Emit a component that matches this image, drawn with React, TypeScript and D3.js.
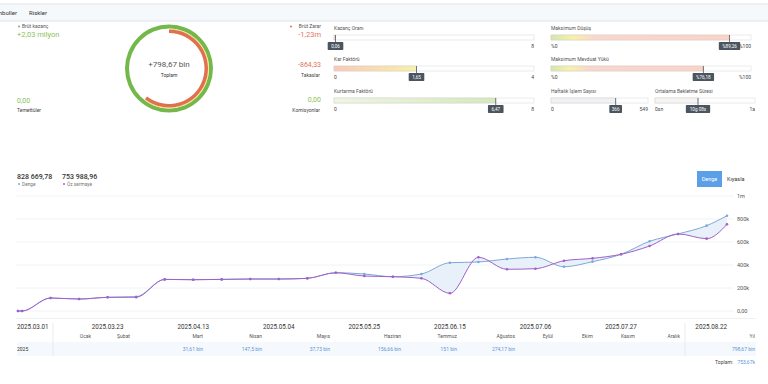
import React from "react";
import { scaleTime, scaleLinear, line, area, arc, curveMonotoneX, timeParse } from "d3";

// equity curve (weekly)
const dates = [
  "2025-03-01", "2025-03-02", "2025-03-09", "2025-03-16", "2025-03-23", "2025-03-30",
  "2025-04-06", "2025-04-13", "2025-04-20", "2025-04-27", "2025-05-04", "2025-05-11",
  "2025-05-18", "2025-05-25", "2025-06-01", "2025-06-08", "2025-06-15", "2025-06-22",
  "2025-06-29", "2025-07-06", "2025-07-13", "2025-07-20", "2025-07-27", "2025-08-03",
  "2025-08-10", "2025-08-17", "2025-08-22",
];
const balance = [
  0, 0, 113000, 104000, 119000, 124000, 275000, 272000, 275000, 278000, 278000, 284000,
  333000, 322000, 298000, 322000, 420000, 426000, 452000, 467000, 385000, 429000, 493000,
  606000, 670000, 742000, 828669.78,
];
const equity = [
  0, 0, 113000, 104000, 119000, 120000, 275000, 272000, 275000, 278000, 278000, 284000,
  333000, 304000, 298000, 284000, 154000, 467000, 363000, 368000, 437000, 458000, 493000,
  565000, 670000, 629000, 753988.96,
];
const xTickDates = [
  "2025-03-01", "2025-03-23", "2025-04-13", "2025-05-04", "2025-05-25",
  "2025-06-15", "2025-07-06", "2025-07-27", "2025-08-22",
];
const yTicks = [0, 200000, 400000, 600000, 800000, 1000000];
const yTickLabels = ["0,00", "200k", "400k", "600k", "800k", "1m"];

// monthly table
const months = ["Ocak", "Şubat", "Mart", "Nisan", "Mayıs", "Haziran", "Temmuz", "Ağustos", "Eylül", "Ekim", "Kasım", "Aralık"];
const monthValues = ["", "", "31,61 bin", "147,5 bin", "37,73 bin", "156,66 bin", "151 bin", "274,17 bin", "", "", "", ""];
const monthColRight = [91, 130, 203, 262, 330, 401, 457, 515, 553, 593, 635, 680];

// summary
const grossProfit = 2030000;
const grossLoss = 1230000;

// slider bars
const barLabels = ["Kazanç Oranı", "Kar Faktörü", "Kurtarma Faktörü", "Maksimum Düşüş", "Maksimum Mevduat Yükü", "Haftalık İşlem Sayısı", "Ortalama Bekletme Süresi"];
const barValues = [0.06, 1.65, 6.47, 89.26, 76.18, 366, 0.43];
const barMax = [8, 4, 8, 100, 100, 549, 1];
const barValueText = ["0,06", "1,65", "6,47", "%89,26", "%76,18", "366", "10g 08s"];
const barMinText = ["0", "0", "0", "%0", "%0", "0", "0sn"];
const barMaxText = ["8", "4", "8", "%100", "%100", "549", "1a"];
const barFills = ["url(#gProfit)", "url(#gProfit)", "url(#gGreen)", "url(#gRisk)", "url(#gRisk)", "#eef2f6", "#f3f5f7"];

const barSlots = [
  { x: 334, y: 35, w: 200 },
  { x: 334, y: 66, w: 200 },
  { x: 334, y: 98, w: 200 },
  { x: 551, y: 35, w: 200 },
  { x: 551, y: 66, w: 200 },
  { x: 551, y: 98, w: 97 },
  { x: 655, y: 98, w: 100 },
];

const FONT = "Roboto, 'Open Sans', sans-serif";
const BLUE = "#80a8d6";
const PURPLE = "#a25fc9";
const GREEN = "#8bbf5a";
const RED = "#e3735f";

const parse = timeParse("%Y-%m-%d");

function Slider({ i }: { i: number }) {
  const s = barSlots[i];
  const sc = scaleLinear().domain([0, barMax[i]]).range([s.x, s.x + s.w]);
  const vx = sc(barValues[i]);
  const h = 5;
  const tw = barValueText[i].length * 2.9 + 4;
  return (
    <g>
      <text x={s.x} y={s.y - 5} fontSize={5} fill="#555">{barLabels[i]}</text>
      <rect x={s.x} y={s.y} width={s.w} height={h} fill="#fff" stroke="#dedede" strokeWidth={0.6} />
      <rect x={s.x} y={s.y} width={vx - s.x} height={h} fill={barFills[i]} stroke="#dccbc4" strokeWidth={0.5} />
      <line x1={vx} x2={vx} y1={s.y} y2={s.y + h + 3} stroke="#4b5560" strokeWidth={0.8} />
      <rect x={vx - tw / 2} y={s.y + h + 2} width={tw} height={8} fill="#4b5560" rx={0.8} />
      <text x={vx} y={s.y + h + 7.8} fontSize={4.6} fill="#fff" textAnchor="middle">{barValueText[i]}</text>
      {vx - tw / 2 > s.x + 6 && (
        <text x={s.x} y={s.y + h + 8} fontSize={5} fill="#444">{barMinText[i]}</text>
      )}
      <text x={s.x + s.w} y={s.y + h + 8} fontSize={5} fill="#444" textAnchor="end">{barMaxText[i]}</text>
    </g>
  );
}

export default function App() {
  const W = 768;
  const H = 384;
  const dts = dates.map((d) => parse(d) as Date);
  const x = scaleTime().domain([dts[0], dts[dts.length - 1]]).range([18, 727]);
  const y = scaleLinear().domain([0, 1000000]).range([311, 196]);
  const pts = dts.map((d, i) => ({ d, b: balance[i], e: equity[i] }));

  const balLine = line<any>().x((p) => x(p.d)).y((p) => y(p.b)).curve(curveMonotoneX);
  const eqLine = line<any>().x((p) => x(p.d)).y((p) => y(p.e)).curve(curveMonotoneX);
  const gap = area<any>().x((p) => x(p.d)).y0((p) => y(p.e)).y1((p) => y(p.b)).curve(curveMonotoneX);

  const cx = 169;
  const cy = 68.5;
  const ring = arc<any>();
  const lossAngle = (grossLoss / grossProfit) * Math.PI * 2;

  return (
    <svg width={W} height={H} style={{ position: "absolute", left: 0, top: 0 }} fontFamily={FONT}>
      <defs>
        <linearGradient id="gProfit" x1="0" x2="1" y1="0" y2="0">
          <stop offset="0" stopColor="#f7c9bc" />
          <stop offset="1" stopColor="#f7f2a6" />
        </linearGradient>
        <linearGradient id="gGreen" x1="0" x2="1" y1="0" y2="0">
          <stop offset="0" stopColor="#eef6e4" />
          <stop offset="1" stopColor="#d2eabd" />
        </linearGradient>
        <linearGradient id="gRisk" x1="0" x2="1" y1="0" y2="0">
          <stop offset="0" stopColor="#cfe8b0" />
          <stop offset="0.12" stopColor="#f6f2a8" />
          <stop offset="0.25" stopColor="#f9d7cc" />
          <stop offset="1" stopColor="#f9d3c8" />
        </linearGradient>
      </defs>
      <rect width={W} height={H} fill="#fff" />

      {/* header tabs */}
      <rect x={0} y={4} width={W} height={17} fill="#f6f9fc" />
      <line x1={0} x2={W} y1={4} y2={4} stroke="#dfe4ea" />
      <line x1={0} x2={W} y1={21} y2={21} stroke="#dfe4ea" />
      <text x={17} y={15} fontSize={6} fill="#333" textAnchor="end">Semboller</text>
      <text x={29} y={15} fontSize={6} fill="#333">Riskler</text>

      {/* left summary */}
      <circle cx={19} cy={26.5} r={1} fill="#999" />
      <text x={22} y={28} fontSize={5} fill="#555">Brüt kazanç</text>
      <text x={17} y={37} fontSize={7.5} fill={GREEN}>+2,03 milyon</text>
      <text x={17} y={103} fontSize={7} fill={GREEN}>0,00</text>
      <text x={17} y={112} fontSize={5} fill="#444">Temettüler</text>

      {/* gauge */}
      <g transform={`translate(${cx},${cy})`}>
        <path d={ring({ innerRadius: 40, outerRadius: 44, startAngle: 0, endAngle: Math.PI * 2 }) || ""} fill="#74b84c" />
        <path d={ring({ innerRadius: 39, outerRadius: 40, startAngle: 0, endAngle: lossAngle }) || ""} fill="#f2e58a" />
        <path d={ring({ innerRadius: 35.5, outerRadius: 39, startAngle: 0, endAngle: lossAngle }) || ""} fill="#e1704f" />
        <text x={0} y={-2} fontSize={8} fill="#555" textAnchor="middle">+798,67 bin</text>
        <text x={0} y={8} fontSize={5} fill="#333" textAnchor="middle">Toplam</text>
      </g>

      {/* middle summary */}
      <circle cx={291} cy={26.5} r={1} fill={RED} />
      <text x={321} y={28} fontSize={5} fill="#555" textAnchor="end">Brüt Zarar</text>
      <text x={321} y={37} fontSize={7.5} fill={RED} textAnchor="end">-1,23m</text>
      <text x={321} y={67} fontSize={7} fill={RED} textAnchor="end">-864,33</text>
      <text x={320} y={77} fontSize={5} fill="#444" textAnchor="end">Takaslar</text>
      <text x={321} y={102} fontSize={7} fill={GREEN} textAnchor="end">0,00</text>
      <text x={320} y={112} fontSize={5} fill="#444" textAnchor="end">Komisyonlar</text>

      {barSlots.map((_, i) => (
        <Slider key={i} i={i} />
      ))}

      {/* chart legend */}
      <text x={17} y={179} fontSize={7} fill="#333" fontWeight={500}>828 669,78</text>
      <text x={62} y={179} fontSize={7} fill="#333" fontWeight={500}>753 988,96</text>
      <circle cx={19} cy={184} r={1} fill={BLUE} />
      <text x={22} y={185.5} fontSize={4.8} fill="#777">Denge</text>
      <circle cx={64} cy={184} r={1} fill={PURPLE} />
      <text x={67} y={185.5} fontSize={4.8} fill="#777">Öz sermaye</text>

      {/* buttons */}
      <rect x={697} y={171} width={25} height={16} fill="#5b9fe6" />
      <text x={709.5} y={181} fontSize={5.5} fill="#fff" textAnchor="middle">Denge</text>
      <text x={727} y={181} fontSize={5.5} fill="#333">Kıyasla</text>

      {/* grid */}
      {yTicks.map((t, i) => (
        <g key={t}>
          <line x1={16} x2={733} y1={y(t)} y2={y(t)} stroke="#eceff3" strokeWidth={0.8} />
          <text x={737} y={y(t) + 2} fontSize={5.5} fill="#555">{yTickLabels[i]}</text>
        </g>
      ))}

      {/* series */}
      <path d={gap(pts) || ""} fill="#e8f1fa" />
      <path d={balLine(pts) || ""} fill="none" stroke={BLUE} strokeWidth={1} />
      <path d={eqLine(pts) || ""} fill="none" stroke={PURPLE} strokeWidth={1} />
      {pts.map((p, i) => (
        <g key={i}>
          <circle cx={x(p.d)} cy={y(p.b)} r={1.3} fill={BLUE} />
          <circle cx={x(p.d)} cy={y(p.e)} r={1.3} fill={PURPLE} />
        </g>
      ))}

      {/* x labels */}
      {xTickDates.map((d, i) => (
        <text
          key={d}
          x={x(parse(d) as Date)}
          y={329}
          fontSize={6.3}
          fill="#333"
          textAnchor={i === 0 ? "start" : i === xTickDates.length - 1 ? "end" : "middle"}
          dx={i === 0 ? -1 : 0}
        >
          {d.replace(/-/g, ".")}
        </text>
      ))}

      {/* monthly table */}
      <line x1={16} x2={756} y1={318.5} y2={318.5} stroke="#eef0f3" />
      <rect x={17} y={342} width={739} height={14} fill="#f5f9fd" />
      <line x1={53} x2={53} y1={323} y2={356} stroke="#e3e6ea" strokeWidth={0.8} />
      <line x1={685} x2={685} y1={323} y2={356} stroke="#e3e6ea" strokeWidth={0.8} />
      {months.map((m, i) => (
        <g key={m}>
          <text x={monthColRight[i]} y={338} fontSize={5} fill="#555" textAnchor="end">{m}</text>
          <text x={monthColRight[i]} y={351} fontSize={5} fill="#5b95d6" textAnchor="end">{monthValues[i]}</text>
        </g>
      ))}
      <text x={755} y={338} fontSize={5} fill="#555" textAnchor="end">Yıl</text>
      <text x={17} y={351} fontSize={5} fill="#333">2025</text>
      <text x={755} y={351} fontSize={5} fill="#5b95d6" textAnchor="end">798,67 bin</text>
      <text x={733} y={364} fontSize={5} fill="#444" textAnchor="end">Toplam:</text>
      <text x={755} y={364} fontSize={5} fill="#5b95d6" textAnchor="end">753,67k</text>
    </svg>
  );
}
